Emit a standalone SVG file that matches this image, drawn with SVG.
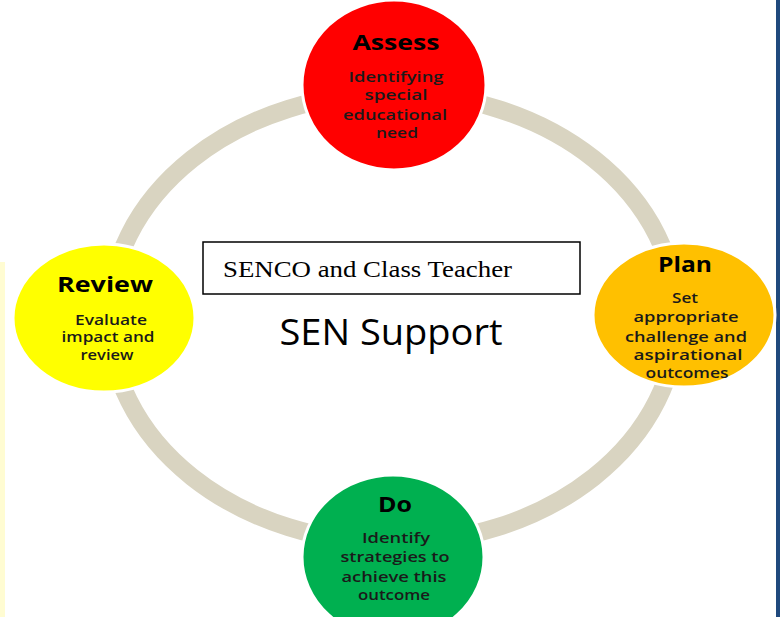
<svg xmlns="http://www.w3.org/2000/svg" width="780" height="617" viewBox="0 0 780 617">
<style>
.node{stroke:#ffffff;stroke-width:3}
.title{font-family:"Open Sans","Liberation Sans",sans-serif;font-weight:bold;font-size:21px;fill:#000;text-anchor:middle}
.body{font-family:"Open Sans","Liberation Sans",sans-serif;font-weight:600;font-size:13.5px;fill:#1a1a1a;text-anchor:middle}
</style>
<rect x="0" y="0" width="780" height="617" fill="#ffffff"/>
<rect x="0" y="262" width="5" height="355" fill="#fffcd2"/>
<rect x="776" y="0" width="4" height="617" fill="#1f497d"/>
<g id="connectors">
<ellipse cx="393" cy="318" rx="284" ry="225" fill="none" stroke="#d9d4c1" stroke-width="18"/>
</g>
<g id="assess">
<ellipse class="node" cx="394" cy="85" rx="92" ry="85" fill="#ff0000"/>
<text class="title" x="396" y="50" textLength="87" lengthAdjust="spacingAndGlyphs">Assess</text>
<text class="body" x="396" y="82" textLength="95" lengthAdjust="spacingAndGlyphs">Identifying</text>
<text class="body" x="396" y="100" textLength="63" lengthAdjust="spacingAndGlyphs">special</text>
<text class="body" x="395" y="120" textLength="104" lengthAdjust="spacingAndGlyphs">educational</text>
<text class="body" x="397" y="138" textLength="42" lengthAdjust="spacingAndGlyphs">need</text>
</g>
<g id="plan">
<ellipse class="node" cx="684" cy="315" rx="91" ry="72" fill="#ffc000"/>
<text class="title" x="685" y="272" textLength="54" lengthAdjust="spacingAndGlyphs">Plan</text>
<text class="body" x="685" y="303" textLength="26" lengthAdjust="spacingAndGlyphs">Set</text>
<text class="body" x="686" y="322" textLength="105" lengthAdjust="spacingAndGlyphs">appropriate</text>
<text class="body" x="686" y="342" textLength="122" lengthAdjust="spacingAndGlyphs">challenge and</text>
<text class="body" x="688" y="360" textLength="109" lengthAdjust="spacingAndGlyphs">aspirational</text>
<text class="body" x="687" y="378" textLength="83" lengthAdjust="spacingAndGlyphs">outcomes</text>
</g>
<g id="review">
<ellipse class="node" cx="104" cy="318" rx="91" ry="74" fill="#ffff00"/>
<text class="title" x="105" y="292" textLength="96" lengthAdjust="spacingAndGlyphs">Review</text>
<text class="body" x="111" y="325" textLength="72" lengthAdjust="spacingAndGlyphs">Evaluate</text>
<text class="body" x="108" y="342" textLength="93" lengthAdjust="spacingAndGlyphs">impact and</text>
<text class="body" x="107" y="360" textLength="53" lengthAdjust="spacingAndGlyphs">review</text>
</g>
<g id="do">
<ellipse class="node" cx="393" cy="557" rx="91" ry="82" fill="#00b050"/>
<text class="title" x="395" y="512" textLength="34" lengthAdjust="spacingAndGlyphs">Do</text>
<text class="body" x="396" y="543" textLength="68" lengthAdjust="spacingAndGlyphs">Identify</text>
<text class="body" x="395" y="562" textLength="109" lengthAdjust="spacingAndGlyphs">strategies to</text>
<text class="body" x="394" y="582" textLength="105" lengthAdjust="spacingAndGlyphs">achieve this</text>
<text class="body" x="394" y="600" textLength="72" lengthAdjust="spacingAndGlyphs">outcome</text>
</g>
<g id="senco">
<rect x="203" y="242" width="377" height="52" fill="#ffffff" stroke="#000000" stroke-width="1.5"/>
<text x="223" y="277" font-family="'Liberation Serif','Times New Roman',serif" font-size="23" fill="#000" textLength="289" lengthAdjust="spacingAndGlyphs">SENCO and Class Teacher</text>
</g>
<g id="sen-support">
<text x="391" y="345" font-family="'Open Sans','Liberation Sans',sans-serif" font-size="37" fill="#000" text-anchor="middle" textLength="223" lengthAdjust="spacingAndGlyphs">SEN Support</text>
</g>
</svg>
